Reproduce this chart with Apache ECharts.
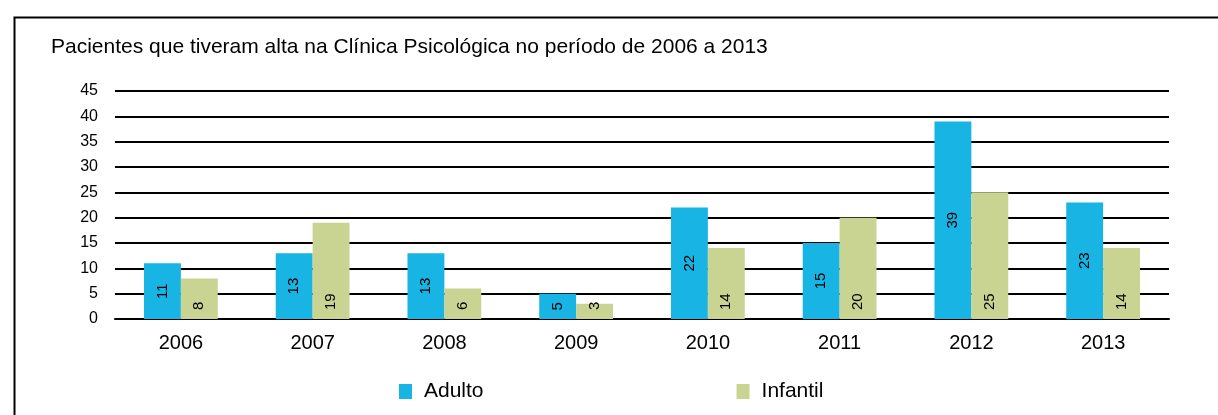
<!DOCTYPE html>
<html>
<head>
<meta charset="utf-8">
<title>Pacientes que tiveram alta</title>
<script src="https://cdn.jsdelivr.net/npm/echarts@6/dist/echarts.min.js"></script>
<style>
  html, body { margin: 0; padding: 0; background: #fff; }
  #chart { width: 1218px; height: 415px; }
</style>
</head>
<body>
<div id="chart"></div>
<script>
// Dados | Data
const anos = ['2006', '2007', '2008', '2009', '2010', '2011', '2012', '2013'];
const adulto = [11, 13, 13, 5, 22, 15, 39, 23];
const infantil = [8, 19, 6, 3, 14, 20, 25, 14];
const seriesNames = ['Adulto', 'Infantil'];

const chart = echarts.init(document.getElementById('chart'));

const option = {
    backgroundColor: '#fff',
    animation: false,
    title: {
        text: 'Pacientes que tiveram alta na Clínica Psicológica no período de 2006 a 2013',
        left: 46,
        top: 32,
        textStyle: {
            fontFamily: 'Liberation Sans, Arial, sans-serif',
            fontSize: 21,
            fontWeight: 'normal',
            color: '#000'
        }
    },
    // moldura | frame
    graphic: [{
        type: 'rect',
        left: 12,
        top: 15,
        shape: { width: 1230, height: 420 },
        style: { fill: 'none', stroke: '#000', lineWidth: 2 }
    }],
    legend: {
        data: seriesNames,
        left: 394,
        top: 376,
        itemWidth: 13,
        itemHeight: 15,
        itemGap: 253,
        icon: 'rect',
        textStyle: {
            fontFamily: 'Liberation Sans, Arial, sans-serif',
            fontSize: 21,
            color: '#000',
            padding: [0, 0, 0, 7]
        }
    },
    grid: {
        left: 115,
        right: 49,
        top: 91,
        bottom: 96
    },
    xAxis: {
        type: 'category',
        data: anos,
        axisLine: { lineStyle: { color: '#000', width: 2 } },
        axisTick: { show: false },
        axisLabel: {
            margin: 14,
            fontFamily: 'Liberation Sans, Arial, sans-serif',
            fontSize: 20,
            color: '#000'
        }
    },
    yAxis: {
        type: 'value',
        min: 0,
        max: 45,
        interval: 5,
        axisLine: { show: false },
        axisTick: { show: false },
        axisLabel: {
            margin: 17,
            fontFamily: 'Liberation Sans, Arial, sans-serif',
            fontSize: 16,
            color: '#000'
        },
        splitLine: { lineStyle: { color: '#000', width: 2 } }
    },
    series: [
        {
            name: 'Adulto',
            type: 'bar',
            data: adulto,
            barGap: '0%',
            barCategoryGap: '44%',
            itemStyle: { color: '#18b4e4' },
            label: {
                show: true,
                position: 'inside',
                rotate: 90,
                fontFamily: 'Liberation Sans, Arial, sans-serif',
                fontSize: 15,
                color: '#000'
            }
        },
        {
            name: 'Infantil',
            type: 'bar',
            data: infantil,
            itemStyle: { color: '#c9d392' },
            label: {
                show: true,
                position: 'insideBottom',
                distance: 9,
                rotate: 90,
                align: 'left',
                verticalAlign: 'middle',
                fontFamily: 'Liberation Sans, Arial, sans-serif',
                fontSize: 15,
                color: '#000'
            }
        }
    ]
};

chart.setOption(option);
</script>
</body>
</html>
